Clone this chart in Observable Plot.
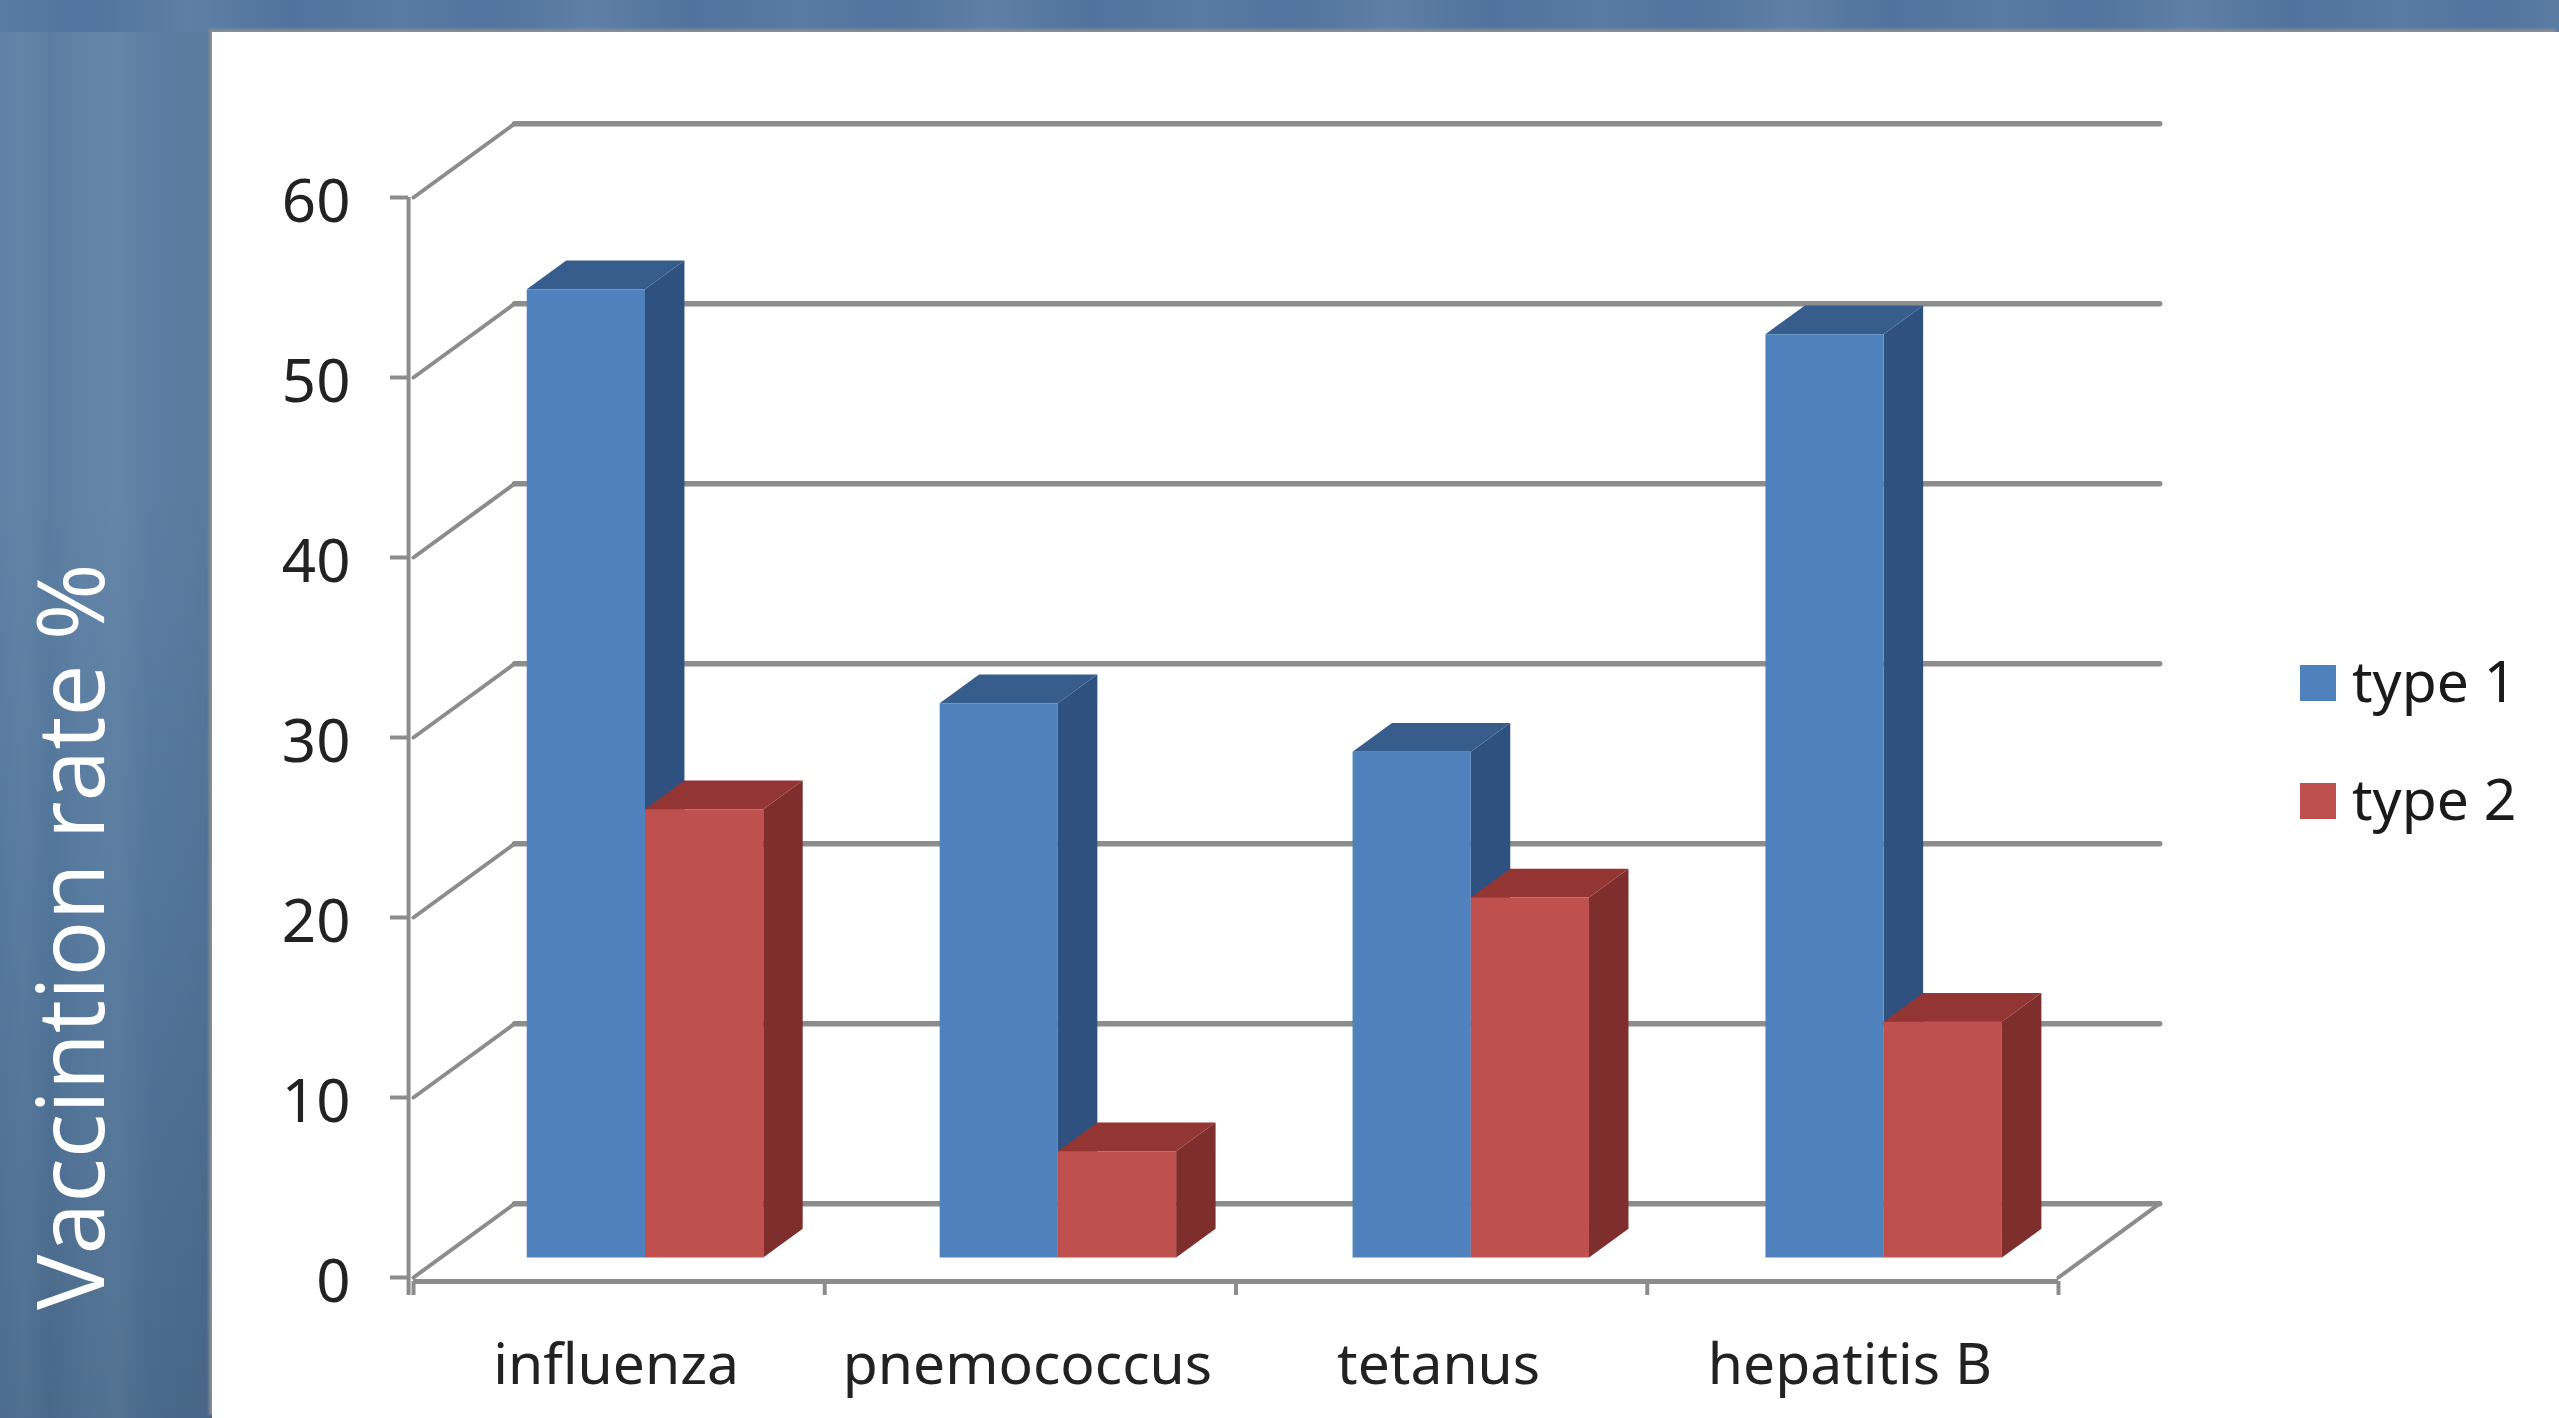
<!DOCTYPE html>
<html><head><meta charset="utf-8">
<script src="https://cdn.jsdelivr.net/npm/d3@7"></script>
<script src="https://cdn.jsdelivr.net/npm/@observablehq/plot@0.6"></script>
<style>
html,body{margin:0;padding:0;width:2559px;height:1418px;overflow:hidden}
body{position:relative;background-color:#54799f;
background-image:
 linear-gradient(90deg,rgba(255,255,255,.01) 0,rgba(255,255,255,.04) 24px,rgba(0,0,0,.02) 50px,rgba(255,255,255,.03) 84px,rgba(255,255,255,.05) 118px,rgba(0,0,0,.01) 150px,rgba(0,0,0,.03) 190px,rgba(0,0,0,.05) 212px),
 linear-gradient(180deg,rgba(255,255,255,.05) 0,rgba(255,255,255,.05) 500px,rgba(0,0,0,.02) 900px,rgba(0,0,0,.12) 1418px);}
#top{position:absolute;left:0;top:0;right:0;height:32px;background:repeating-linear-gradient(90deg,#587ba3 0,#50749d 90px,#5f80a6 190px,#4f739c 290px,#587ba3 400px);}
#panel{position:absolute;left:212px;top:32px;right:0;bottom:0;background:#fff;box-shadow:-3px -3px 3px #8a8f96}
#chart{position:absolute;left:0;top:0}
#legend{position:absolute;left:2300px;top:0;font-family:"Noto Sans";font-size:57px;color:#1a1a1a}
.row{position:absolute;left:0;white-space:nowrap;line-height:60px;height:60px}
.sw{position:absolute;left:0;top:15px;width:36px;height:36px}
.row span.t{position:absolute;left:52px}
</style></head><body>
<div id="top"></div><div id="panel"></div><div id="chart"></div>
<div id="legend"></div>
<script>
const categories = ["influenza","pnemococcus","tetanus","hepatitis B"];
const type1 = [53.8,30.8,28.1,51.3];
const type2 = [24.9,5.9,20,13.1];
const seriesNames = ["type 1","type 2"];
const yTicks = [0,10,20,30,40,50,60];
const xBoundaries = [0,1,2,3,4];
const front = ["#4f81bd","#c0504d"];
const side = ["#2f5180","#7e2f2d"];
const topFace = ["#375d8d","#933533"];

// oblique depth: d=0 front plane, d=1 back wall
const DX = 0.246, DY = 4.1;
const px = (c,d)=>c+DX*d, py = (v,d)=>v+DY*d;
const P = (c,v,d,id)=>({x:px(c,d),y:py(v,d),id});

const backLines = yTicks.flatMap(v=>[P(0,v,1,v),P(4,v,1,v)]);
const diagonals = yTicks.flatMap(v=>[P(0,v,0,"d"+v),P(0,v,1,"d"+v)]).concat([P(4,0,0,"r"),P(4,0,1,"r")]);

const d0=.27,d1=.66,gap=.209,w=.2875,step=1.004;
const faces = [];
categories.forEach((cat,i)=>{
  [type1[i],type2[i]].forEach((v,s)=>{
    const a=i*step+gap+s*w,b=a+w;
    const pre=cat+s;
    const poly=(kind,pts)=>pts.forEach(p=>faces.push({...P(p[0],p[1],p[2],pre+kind),s,kind}));
    poly("side",[[b,0,d0],[b,v,d0],[b,v,d1],[b,0,d1]]);
    poly("top",[[a,v,d0],[b,v,d0],[b,v,d1],[a,v,d1]]);
    poly("front",[[a,0,d0],[b,0,d0],[b,v,d0],[a,v,d0]]);
  });
});
const faceColor = f=>f.kind==="front"?front[f.s]:f.kind==="side"?side[f.s]:topFace[f.s];

const GREY="#8c8c8c";
const chart = Plot.plot({
  width:2559,height:1418,
  marginLeft:408,marginRight:503,marginTop:197,marginBottom:137,
  style:{background:"transparent",fontFamily:"Noto Sans",overflow:"visible"},
  x:{type:"linear",domain:[0,4],range:[413,2058]},
  y:{type:"linear",domain:[0,60],range:[1277,197]},
  marks:[
    Plot.line(backLines,{x:"x",y:"y",z:"id",stroke:GREY,strokeWidth:5.5}),
    Plot.line(diagonals,{x:"x",y:"y",z:"id",stroke:GREY,strokeWidth:4}),
    Plot.ruleX([-0.012],{y1:-1,y2:60,stroke:GREY,strokeWidth:4}),
    Plot.ruleY([-0.22],{x1:0,x2:4,stroke:GREY,strokeWidth:5}),
    Plot.line(faces,{x:"x",y:"y",z:"id",fill:faceColor,stroke:null}),
    Plot.axisY({ticks:yTicks,tickSize:18,stroke:GREY,strokeWidth:4,text:null,label:null}),
    Plot.axisY({ticks:yTicks,tickSize:0,tickPadding:58,fontSize:60,color:"#222",tickFormat:d=>d,label:null,dy:5}),
    Plot.axisX({ticks:xBoundaries,tickSize:14,stroke:GREY,strokeWidth:4,tickFormat:null,label:null,tickPadding:0,text:null}),
    Plot.axisX({ticks:categories.map((_,i)=>i+.5),tickSize:0,tickPadding:62,fontSize:57,color:"#222",tickFormat:d=>categories[Math.floor(d)],label:null,dx:-3}),
    Plot.text(["Vaccintion rate %"],{x:-.752,y:-1.8,text:d=>d,rotate:-90,textAnchor:"start",lineAnchor:"bottom",fill:"white",fontSize:93,fontFamily:"Open Sans",fontWeight:400})
  ]
});
document.getElementById("chart").append(chart);

const legend=document.getElementById("legend");
seriesNames.forEach((n,i)=>{
  const r=document.createElement("div");r.className="row";r.style.top=(650+i*118)+"px";
  r.innerHTML=`<div class="sw" style="background:${front[i]}"></div><span class="t">${n}</span>`;
  legend.append(r);
});
</script></body></html>
